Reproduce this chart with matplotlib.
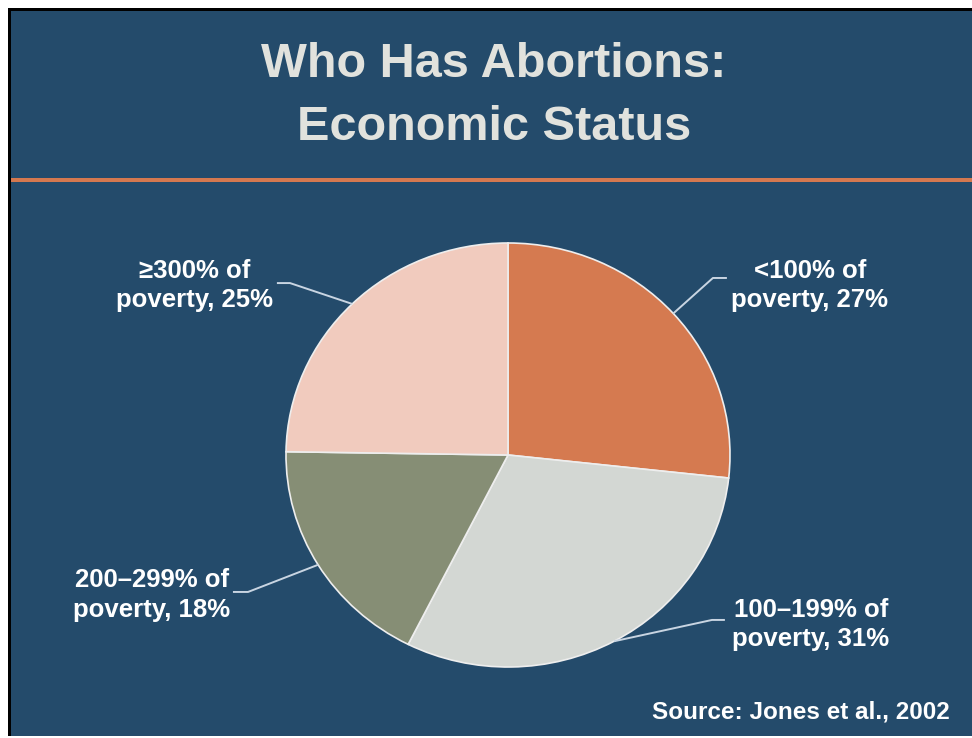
import numpy as np
import matplotlib
matplotlib.use("Agg")
import matplotlib.pyplot as plt
from matplotlib.patches import Rectangle

# ---- data ----
categories = ["<100% of\npoverty, 27%", "100\u2013199% of\npoverty, 31%",
              "200\u2013299% of\npoverty, 18%", "\u2265300% of\npoverty, 25%"]
values = [27, 31, 18, 25]
colors = ["#d57a50", "#d3d7d3", "#868e75", "#f1cbbe"]
title_lines = ["Who Has Abortions:", "Economic Status"]
source = "Source: Jones et al., 2002"

# label layout (pie-axes data coords): text centre, knee point, line end near text
label_pos = [(1.36, 0.80), (1.365, -0.80), (-1.604, -0.66), (-1.41, 0.80)]
knee_pos = [(0.923, 0.835), (0.919, -0.778), (-1.171, -0.646), (-0.982, 0.811)]
end_pos = [(0.986, 0.835), (0.977, -0.778), (-1.239, -0.646), (-1.041, 0.811)]

BG = "#244b6b"
W, H = 972, 738
font = "Liberation Sans"

fig = plt.figure(figsize=(W / 100, H / 100), dpi=100, facecolor="white")

# background axes in pixel coordinates
bg = fig.add_axes([0, 0, 1, 1])
bg.set_xlim(0, W)
bg.set_ylim(H, 0)
bg.axis("off")
bg.add_patch(Rectangle((10, 10), W - 10, 726, facecolor=BG, edgecolor="none"))
bg.add_patch(Rectangle((8, 8), W - 8, 3, facecolor="black", edgecolor="none"))
bg.add_patch(Rectangle((8, 8), 3, 728, facecolor="black", edgecolor="none"))
bg.add_patch(Rectangle((11, 177.5), W - 11, 4, facecolor="#d4784f", edgecolor="none"))

bg.text(494, 77, title_lines[0], ha="center", va="baseline", fontsize=35,
        fontweight="bold", color="#e1e2dd", family=font)
bg.text(494, 140, title_lines[1], ha="center", va="baseline", fontsize=35,
        fontweight="bold", color="#e1e2dd", family=font)
bg.text(950, 712, source, ha="right", va="center", fontsize=17.5,
        fontweight="bold", color="white", family=font)

# pie axes
cx, cy, rx, ry = 508, 455, 222, 212
ax = fig.add_axes([(cx - rx) / W, (H - cy - ry) / H, 2 * rx / W, 2 * ry / H])
wedges, _ = ax.pie(values, colors=colors, startangle=90, counterclock=False,
                   radius=1, wedgeprops=dict(edgecolor="#eeeeee", linewidth=1.2))
ax.set_aspect("auto")
ax.set_xlim(-1, 1)
ax.set_ylim(-1, 1)
ax.axis("off")

for w, lab, tp, kp, ep in zip(wedges, categories, label_pos, knee_pos, end_pos):
    ang = np.deg2rad((w.theta1 + w.theta2) / 2)
    x0, y0 = np.cos(ang), np.sin(ang)
    ax.plot([x0, kp[0], ep[0]], [y0, kp[1], ep[1]], color="#c9d5e2",
            linewidth=1.4, clip_on=False, solid_capstyle="butt")
    ax.text(tp[0], tp[1], lab, ha="center", va="center", fontsize=18.5,
            fontweight="bold", color="white", family=font, linespacing=1.3,
            clip_on=False)

fig.savefig("out.png", dpi=100, facecolor="white")
